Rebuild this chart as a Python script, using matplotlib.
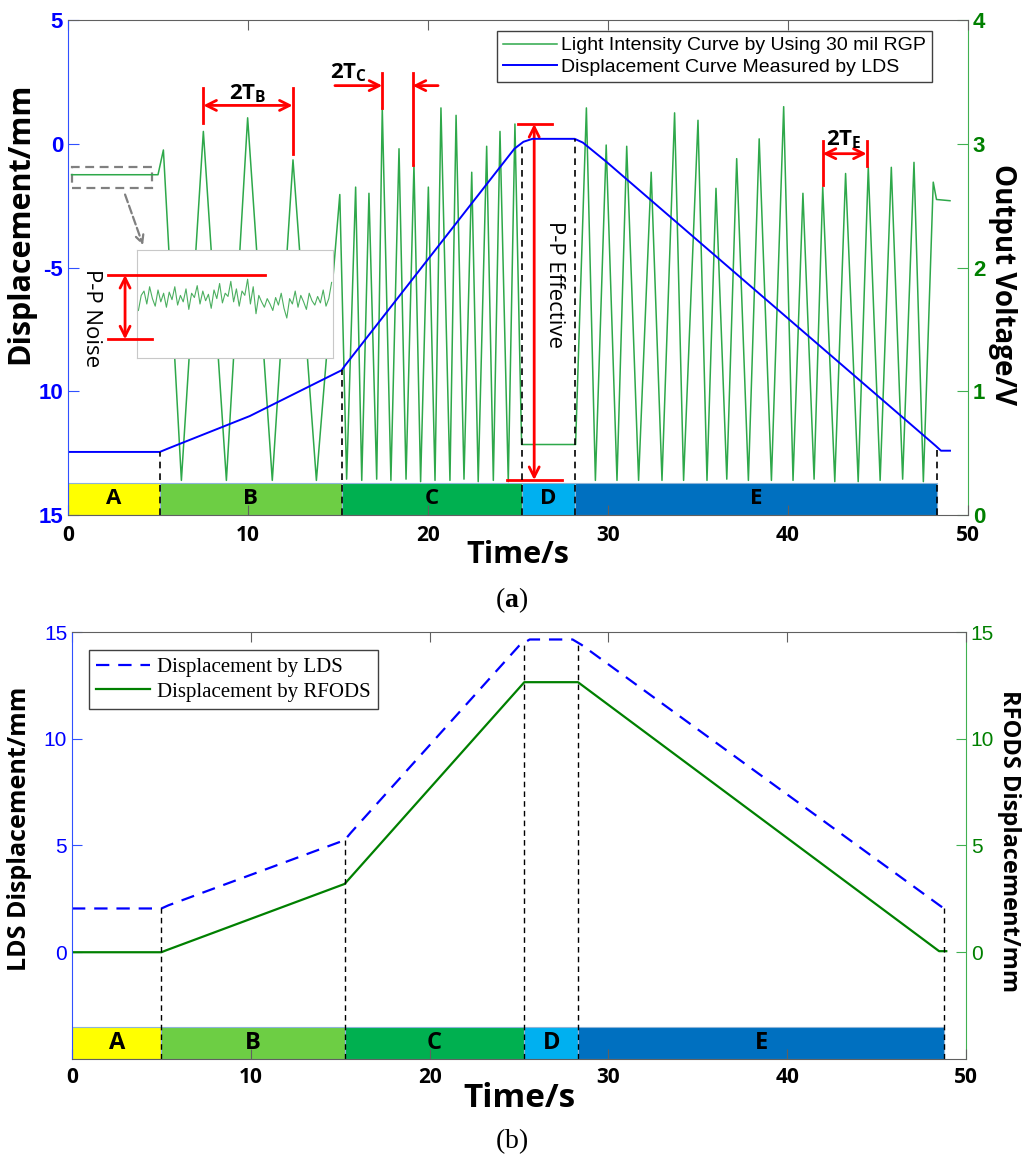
import numpy as np
import matplotlib.pyplot as plt
from matplotlib.lines import Line2D
from matplotlib.patches import FancyArrowPatch, Rectangle

plt.rcParams['mathtext.fontset'] = 'custom'
plt.rcParams['mathtext.sf'] = 'Open Sans:bold'
plt.rcParams['mathtext.rm'] = 'Liberation Serif'
plt.rcParams['mathtext.bf'] = 'Liberation Serif:bold'

# ---------- (a) light intensity curve (V) and LDS displacement (mm) ----------
t_light = [0.2, 5.0, 5.3, 6.3, 7.52, 8.8, 9.98, 11.35, 12.5, 13.8, 15.1, 15.48, 15.98, 16.32,
           16.72, 17.15, 17.46, 17.94, 18.39, 18.78, 19.22, 19.59, 20.02, 20.39, 20.72, 21.22,
           21.56, 22.0, 22.43, 22.79, 23.26, 23.63, 24.0, 24.46, 24.83, 25.2, 28.2, 28.8, 29.3,
           29.9, 30.5, 31.04, 31.7, 32.4, 33.0, 33.7, 34.2, 35.0, 35.5, 36.0, 36.6, 37.15, 37.8,
           38.4, 39.08, 39.76, 40.28, 40.83, 41.45, 41.93, 42.6, 43.2, 43.9, 44.46, 45.12, 45.74,
           46.37, 47.0, 47.52, 48.07, 48.25, 49.0]
v_light = [2.75, 2.75, 2.95, 0.28, 3.10, 0.28, 3.21, 0.28, 2.87, 0.28, 2.59, 0.29, 2.65, 0.28,
           2.60, 0.29, 3.29, 0.28, 2.96, 0.29, 2.83, 0.27, 2.65, 0.28, 3.29, 0.28,
           3.23, 0.29, 2.77, 0.27, 2.98, 0.28, 3.10, 0.27, 3.16, 0.57, 0.57, 3.29, 0.28,
           2.99, 0.28, 2.98, 0.28, 2.77, 0.28, 3.25, 0.28, 3.19, 0.28, 2.64, 0.29, 2.88, 0.28,
           3.04, 0.28, 3.30, 0.28, 2.60, 0.29, 2.65, 0.27, 2.76, 0.27, 2.81, 0.28, 2.81,
           0.29, 2.85, 0.27, 2.69, 2.55, 2.54]

t_lds_a = [0, 5.1, 5.6, 10.1, 15.2, 15.4, 24.8, 25.3, 25.8, 28.15, 28.6, 29.9, 48.2, 48.5, 49.0]
d_lds_a = [12.45, 12.45, 12.3, 11.0, 9.15, 8.95, 0.2, -0.08, -0.2, -0.2, -0.05, 0.72, 12.2, 12.4, 12.4]

noise = [0.44, 0.58, 0.62, 0.50, 0.66, 0.55, 0.48, 0.63, 0.52, 0.60, 0.47, 0.61, 0.54, 0.66,
         0.49, 0.58, 0.52, 0.64, 0.45, 0.60, 0.56, 0.67, 0.50, 0.62, 0.53, 0.59, 0.46, 0.63,
         0.55, 0.69, 0.51, 0.60, 0.57, 0.71, 0.52, 0.64, 0.48, 0.62, 0.58, 0.73, 0.50, 0.66,
         0.41, 0.58, 0.52, 0.47, 0.55, 0.50, 0.44, 0.56, 0.49, 0.60, 0.46, 0.37, 0.55, 0.50,
         0.62, 0.47, 0.58, 0.52, 0.45, 0.60, 0.53, 0.49, 0.57, 0.51, 0.63, 0.48, 0.55, 0.70]

phases = ['A', 'B', 'C', 'D', 'E']
phase_colors = ['#FFFF00', '#6DCE44', '#00B050', '#00B0F0', '#0070C0']
bounds_a = [0, 5.1, 15.2, 25.25, 28.15, 48.3]

# ---------- (b) displacement by LDS and RFODS ----------
t_lds_b = [0, 5.0, 5.4, 15.25, 15.6, 25.0, 25.6, 28.0, 28.5, 48.6, 48.8]
d_lds_b = [2.05, 2.05, 2.2, 5.25, 5.6, 14.35, 14.65, 14.65, 14.4, 2.15, 2.05]
t_rfods = [0, 5.0, 5.3, 15.25, 25.3, 28.3, 48.5, 48.9]
d_rfods = [0, 0, 0.1, 3.2, 12.65, 12.65, 0.05, 0.05]
bounds_b = [0, 5.0, 15.25, 25.3, 28.3, 48.8]

GREEN_A = '#2EA84A'
RED = '#FF0000'
GRAY = '#606060'

fig = plt.figure(figsize=(10.24, 11.65), dpi=100)

# ======================= panel (a) =======================
ax1 = fig.add_axes([0.0664, 0.5579, 0.8789, 0.4249])
ax2 = ax1.twinx()
ax1.set_zorder(ax2.get_zorder() + 1)
ax1.patch.set_visible(False)

ax2.plot(t_light, v_light, color=GREEN_A, lw=1.1)
ax1.plot(t_lds_a, d_lds_a, color='#0000FF', lw=1.4)

ax1.set_xlim(0, 50)
ax1.set_ylim(15, -5)
ax2.set_ylim(0, 4)

# phase band
widths = np.diff(bounds_a)
ax2.bar(bounds_a[:-1], 0.26, width=widths, align='edge', color=phase_colors,
        edgecolor='#8DB4D8', lw=0.8, zorder=3)
for i, p in enumerate(phases):
    ax2.text(bounds_a[i] + widths[i] / 2, 0.13, p, ha='center', va='center',
             fontsize=16, fontweight='bold', family='Open Sans', zorder=4)
for b in bounds_a[1:]:
    ax1.vlines(b, 15, np.interp(b, t_lds_a, d_lds_a), colors='black', linestyles=(0, (4, 3)), lw=1.2)

ax1.set_xticks([0, 10, 20, 30, 40, 50])
ax1.set_yticks([-5, 0, 5, 10, 15])
ax1.set_yticklabels(['5', '0', '-5', '10', '15'])
ax2.set_yticks([0, 1, 2, 3, 4])
ax1.tick_params(axis='x', direction='in', length=7, color=GRAY, top=True, pad=7)
ax1.tick_params(axis='y', direction='in', length=8, color='#3050FF', labelcolor='#0000FF')
ax2.tick_params(axis='y', direction='in', length=8, color='#40B050', labelcolor='#008000')
for lab in ax1.get_xticklabels():
    lab.set_fontproperties({'family': 'Open Sans', 'weight': 'bold', 'size': 15})
for lab in ax1.get_yticklabels() + ax2.get_yticklabels():
    lab.set_fontproperties({'family': 'Liberation Sans', 'weight': 'bold', 'size': 16})

ax1.spines['right'].set_visible(False)
ax1.spines['left'].set_color('#3050FF')
ax1.spines['top'].set_color(GRAY)
ax1.spines['bottom'].set_color(GRAY)
for s in ['left', 'top', 'bottom']:
    ax2.spines[s].set_visible(False)
ax2.spines['right'].set_color('#40B050')

ax1.set_xlabel('Time/s', family='Open Sans', weight='bold', fontsize=22)
ax1.xaxis.set_label_coords(0.5, -0.05)
ax1.set_ylabel('Displacement/mm', family='Open Sans', weight='bold', fontsize=22)
ax1.yaxis.set_label_coords(-0.036, 0.59)
ax2.set_ylabel('Output Voltage/V', family='Open Sans', weight='bold', fontsize=20, rotation=270)
ax2.yaxis.set_label_coords(1.055, 0.465)

handles = [Line2D([], [], color=GREEN_A, lw=1.1), Line2D([], [], color='#0000FF', lw=1.4)]
leg = ax1.legend(handles, ['Light Intensity Curve by Using 30 mil RGP',
                           'Displacement Curve Measured by LDS'],
                 loc='upper right', bbox_to_anchor=(0.96, 0.978), borderaxespad=0,
                 fancybox=False, framealpha=1, edgecolor='#404040', handlelength=2.8,
                 handletextpad=0.2, borderpad=0.3, labelspacing=0.2,
                 prop={'family': 'Liberation Sans', 'size': 14})
leg.get_frame().set_linewidth(1.0)

# red period markers
def red_vline(ax, x, y0, y1):
    ax.plot([x, x], [y0, y1], color=RED, lw=2)

def red_arrow(ax, xy_from, xy_to, style='<->'):
    ax.annotate('', xy=xy_to, xytext=xy_from,
                arrowprops=dict(arrowstyle=style, color=RED, lw=2, mutation_scale=18,
                                shrinkA=0, shrinkB=0))

red_vline(ax2, 7.52, 3.17, 3.45)
red_vline(ax2, 12.48, 2.92, 3.45)
red_arrow(ax2, (7.52, 3.31), (12.48, 3.31))
ax2.text(10.0, 3.31, r'$\mathsf{2T}_{\mathsf{B}}$', ha='center', va='bottom', fontsize=16)

red_vline(ax2, 17.46, 3.29, 3.57)
red_vline(ax2, 19.15, 2.83, 3.57)
red_arrow(ax2, (14.83, 3.47), (17.46, 3.47), '->')
red_arrow(ax2, (20.56, 3.47), (19.15, 3.47), '->')
ax2.text(15.6, 3.48, r'$\mathsf{2T}_{\mathsf{C}}$', ha='center', va='bottom', fontsize=16)

red_vline(ax2, 41.93, 2.67, 3.02)
red_vline(ax2, 44.37, 2.82, 3.02)
red_arrow(ax2, (41.93, 2.92), (44.37, 2.92))
ax2.text(43.1, 2.94, r'$\mathsf{2T}_{\mathsf{E}}$', ha='center', va='bottom', fontsize=16)

# P-P effective
ax2.plot([25.0, 26.87], [3.16, 3.16], color=RED, lw=2)
ax2.plot([24.37, 27.43], [0.283, 0.283], color=RED, lw=2)
red_arrow(ax2, (25.9, 0.283), (25.9, 3.16))
ax2.text(27.05, 1.86, 'P-P Effective', rotation=-90, ha='center', va='center',
         fontsize=16, family='Open Sans')

# gray dashed box around the flat region and pointer to the inset
ax2.add_patch(Rectangle((0.2, 2.64), 4.47, 0.17, fill=False, edgecolor='#808080',
                        lw=1.6, ls=(0, (4, 2.5))))
ax2.annotate('', xy=(4.17, 2.18), xytext=(3.17, 2.59),
             arrowprops=dict(arrowstyle='->', color='#808080', lw=1.6, ls='--',
                             mutation_scale=14, shrinkA=0, shrinkB=0))
ax2.text(1.33, 1.59, 'P-P Noise', rotation=-90, ha='center', va='center',
         fontsize=16, family='Open Sans')

# inset with noise detail
axin = fig.add_axes([0.1338, 0.6927, 0.1914, 0.0927])
axin.plot(noise, color='#4CAF60', lw=0.8)
axin.set_xlim(-0.5, len(noise) - 0.5)
axin.set_ylim(0, 1)
axin.set_xticks([])
axin.set_yticks([])
for s in axin.spines.values():
    s.set_color('#C8C8C8')

# red noise markers drawn above the inset
for xs, ys in [([2.22, 10.94], [1.94, 1.94]), ([2.22, 4.67], [1.42, 1.42])]:
    fig.add_artist(Line2D(xs, ys, color=RED, lw=2, transform=ax2.transData, zorder=10))
fig.add_artist(FancyArrowPatch((3.17, 1.42), (3.17, 1.94), arrowstyle='<->', color=RED, lw=2,
                               mutation_scale=18, shrinkA=0, shrinkB=0,
                               transform=ax2.transData, zorder=10))

fig.text(0.5, 1 - 600 / 1165, r'$(\mathbf{a})$', ha='center', va='center', fontsize=20)

# ======================= panel (b) =======================
bx1 = fig.add_axes([0.0703, 0.0910, 0.8730, 0.3665])
bx2 = bx1.twinx()
bx1.set_zorder(bx2.get_zorder() + 1)
bx1.patch.set_visible(False)

bx1.plot(t_lds_b, d_lds_b, color='#0000FF', lw=1.6, ls=(0, (6, 4)), label='Displacement by LDS')
bx1.plot(t_rfods, d_rfods, color='#008000', lw=1.6, label='Displacement by RFODS')

bx1.set_xlim(0, 50)
bx1.set_ylim(-5, 15)
bx2.set_ylim(-5, 15)

widths_b = np.diff(bounds_b)
bx1.bar(bounds_b[:-1], 1.5, bottom=-5, width=widths_b, align='edge', color=phase_colors,
        edgecolor='#8DB4D8', lw=0.8, zorder=1)
for i, p in enumerate(phases):
    bx1.text(bounds_b[i] + widths_b[i] / 2, -4.25, p, ha='center', va='center',
             fontsize=17, fontweight='bold', family='Open Sans', zorder=4)
for b in bounds_b[1:]:
    top = max(np.interp(b, t_lds_b, d_lds_b), np.interp(b, t_rfods, d_rfods))
    bx1.vlines(b, -5, top, colors='black', linestyles=(0, (4, 3)), lw=1.0, zorder=2)

bx1.set_xticks([0, 10, 20, 30, 40, 50])
bx1.set_yticks([0, 5, 10, 15])
bx2.set_yticks([0, 5, 10, 15])
bx1.tick_params(axis='x', direction='in', length=7, color=GRAY, top=True, pad=6)
bx1.tick_params(axis='y', direction='in', length=7, color='#3050FF', labelcolor='#0000FF')
bx2.tick_params(axis='y', direction='in', length=7, color='#40B050', labelcolor='#008000')
for lab in bx1.get_xticklabels():
    lab.set_fontproperties({'family': 'Open Sans', 'weight': 'bold', 'size': 15})
for lab in bx1.get_yticklabels() + bx2.get_yticklabels():
    lab.set_fontproperties({'family': 'Liberation Sans', 'size': 15})

bx1.spines['right'].set_visible(False)
bx1.spines['left'].set_color('#3050FF')
bx1.spines['top'].set_color(GRAY)
bx1.spines['bottom'].set_color(GRAY)
for s in ['left', 'top', 'bottom']:
    bx2.spines[s].set_visible(False)
bx2.spines['right'].set_color('#40B050')

bx1.set_xlabel('Time/s', family='Open Sans', weight='bold', fontsize=24)
bx1.xaxis.set_label_coords(0.5, -0.055)
bx1.set_ylabel('LDS Displacement/mm', family='Open Sans', weight='bold', fontsize=18)
bx1.yaxis.set_label_coords(-0.045, 0.54)
bx2.set_ylabel('RFODS Displacement/mm', family='Open Sans', weight='bold', fontsize=17,
               rotation=270)
bx2.yaxis.set_label_coords(1.062, 0.51)

leg_b = bx1.legend(loc='upper left', bbox_to_anchor=(0.019, 0.958), borderaxespad=0,
                   fancybox=False, framealpha=1, edgecolor='#404040', handlelength=2.6,
                   handletextpad=0.3, borderpad=0.35, labelspacing=0.25,
                   prop={'family': 'Liberation Serif', 'size': 15})
leg_b.get_frame().set_linewidth(1.0)

fig.text(0.5, 1 - 1141 / 1165, r'$(\mathrm{b})$', ha='center', va='center', fontsize=20)

fig.savefig('out.png', dpi=100)
